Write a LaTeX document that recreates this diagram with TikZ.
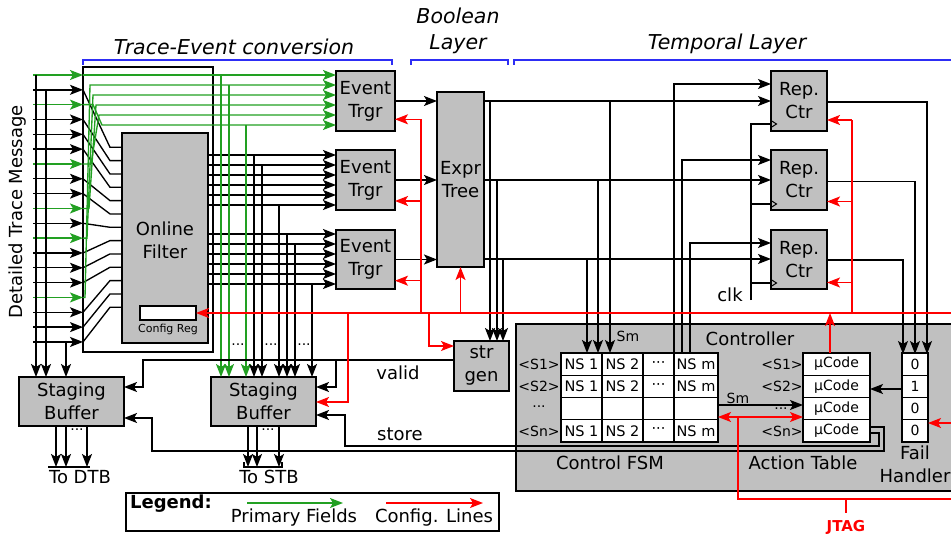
\documentclass[tikz,border=0pt]{standalone}
\usepackage{fontspec}
\setmainfont{DejaVu Sans}
\usetikzlibrary{arrows.meta}
\definecolor{boxgray}{RGB}{192,192,192}
\definecolor{wgreen}{RGB}{34,160,34}
\definecolor{wred}{RGB}{255,0,0}
\definecolor{wblue}{RGB}{45,45,245}
\newcommand{\myBig}{\fontsize{18}{23}\selectfont}
\newcommand{\myMid}{\fontsize{14.5}{16}\selectfont}
\newcommand{\mySmall}{\fontsize{14}{15}\selectfont}
\newcommand{\myTiny}{\fontsize{11}{12}\selectfont}
\newcommand{\myHead}{\fontsize{20.5}{26}\selectfont\itshape}
\begin{document}
\begin{tikzpicture}[x=1pt,y=-1pt,
  wire/.style={line width=1.35pt},
  tipA/.style={-{Stealth[length=13pt,width=10pt,inset=3pt]}},
  arr/.style={wire,tipA},
  garr/.style={arr,wgreen},
  gwire/.style={wire,wgreen},
  rwire/.style={wire,wred},
  rarr/.style={arr,wred},
  plain/.style={inner sep=0pt,outer sep=0pt,anchor=north west},
  gbox/.style={plain,draw,fill=boxgray,line width=1.4pt,align=center,font=\myBig},
  cell/.style={plain,draw,fill=white,line width=1.3pt,font=\myMid},
  lbl/.style={inner sep=0pt,font=\myBig},
  slbl/.style={inner sep=0pt,font=\mySmall},
  bl/.style={line width=1.2pt,wblue},
]
\useasboundingbox (0,0) rectangle (951,535);
\clip (0,0) rectangle (951,535);

% ---------- headings ----------
\node[inner sep=0pt,font=\myHead] (h1) at (234,47) {Trace-Event conversion};
\node[inner sep=0pt,font=\myHead,align=center] (h2) at (458,31) {Boolean\\Layer};
\node[inner sep=0pt,font=\myHead] (h3) at (727,44) {Temporal Layer};
\draw[bl] (83,65) -- (83,60) -- (392,60) -- (392,65);
\draw[bl] (411,65) -- (411,60) -- (508,60) -- (508,65);
\draw[bl] (514,65) -- (514,60) -- (955,60);

\node[inner sep=0pt,font=\myBig,rotate=90] (dtm) at (18,212) {Detailed Trace Message};

% ---------- controller background ----------
\node[gbox,minimum width=445pt,minimum height=167pt] (ctrl) at (516,324) {};
\node[lbl] (ctrll) at (750,339) {Controller};
\node[lbl] (cfsml) at (610,463) {Control FSM};
\node[lbl] (actl) at (803,463) {Action Table};
\node[lbl] (faill) at (915,453) {Fail};
\node[lbl] (handl) at (915,476) {Handler};

% ---------- boxes ----------
\node[plain,draw,line width=1.4pt,minimum width=130pt,minimum height=285pt] (tbox) at (83,67) {};
\node[gbox,minimum width=86pt,minimum height=210pt] (filter) at (122,133) {};
\node[lbl,align=center] (filtl) at (165,240) {Online\\Filter};
\node[cell,minimum width=56pt,minimum height=14pt] (cfg) at (140,306) {};
\node[inner sep=0pt,font=\myTiny] (cfgl) at (168,329) {Config Reg};

\node[gbox,minimum width=59pt,minimum height=60pt] (et1) at (336,71) {Event\\Trgr};
\node[gbox,minimum width=59pt,minimum height=60pt] (et2) at (336,150) {Event\\Trgr};
\node[gbox,minimum width=59pt,minimum height=59pt] (et3) at (336,230) {Event\\Trgr};
\node[gbox,minimum width=47pt,minimum height=175pt] (expr) at (437,92) {Expr\\Tree};
\node[gbox,minimum width=56pt,minimum height=60pt] (rc1) at (771,71) {Rep.\\Ctr};
\node[gbox,minimum width=56pt,minimum height=60pt] (rc2) at (771,150) {Rep.\\Ctr};
\node[gbox,minimum width=56pt,minimum height=59pt] (rc3) at (771,230) {Rep.\\Ctr};
\node[gbox,line width=1.8pt,minimum width=55pt,minimum height=50pt] (sg) at (454,341) {str\\gen};
\node[gbox,minimum width=105pt,minimum height=49pt] (sb1) at (19,377) {Staging\\Buffer};
\node[gbox,minimum width=105pt,minimum height=49pt] (sb2) at (211,377) {Staging\\Buffer};

% ---------- input rows ----------
\foreach \i/\c in {0/wgreen,1/black,2/wgreen,3/black,4/black,5/black,6/wgreen,7/black,8/black,9/wgreen,10/black,11/wgreen,12/black,13/black,14/black,15/wgreen,16/black,17/black,18/black}{
  \pgfmathsetmacro\yy{75+14.83*\i}
  \coordinate (in\i) at (33,\yy);
  \draw[arr,\c] (in\i) -- (tbox.west |- in\i);
}
% black fan into filter
\foreach \i/\j in {1/0,3/1,4/2,5/3,7/4,8/5,10/6,12/7,13/8,14/9,16/10,17/11,18/12}{
  \pgfmathsetmacro\yf{147.3+13.33*\j}
  \draw[wire] (tbox.west |- in\i) -- (110,\yf) -- (filter.west |- 0,\yf);
}
% green primary fields to ET1
\draw[garr] (tbox.west |- in0) -- (et1.west |- in0);
\foreach \i/\t/\xb/\xt in {15/0/85/90,11/1/87/93,9/2/89/96,6/3/91/99,2/4/93/102}{
  \pgfmathsetmacro\yt{85+10*\t}
  \draw[garr] (tbox.west |- in\i) -- (\xb,0 |- in\i) -- (\xt,\yt) -- (et1.west |- 0,\yt);
}
% filter outputs
\foreach \y in {155,165,175,185,195,205} \draw[arr] (filter.east |- 0,\y) -- (et2.west |- 0,\y);
\foreach \y in {234,244,254,264,274,284} \draw[arr] (filter.east |- 0,\y) -- (et3.west |- 0,\y);
% drops to staging buffer 2
\foreach \x/\y in {221/75,229/85,246/125} \draw[garr] (\x,\y) -- (\x,0 |- sb2.north);
\foreach \x/\y in {254/155,262/165,279/205,287/234,295/244,312/284} \draw[arr] (\x,\y) -- (\x,0 |- sb2.north);
\node[inner sep=0pt,font=\mySmall] (d1) at (238,347) {···};
\node[inner sep=0pt,font=\mySmall] (d2) at (271,347) {···};
\node[inner sep=0pt,font=\mySmall] (d3) at (304,347) {···};
% staging buffer 1 inputs
\draw[arr] (36,0 |- in0) -- (36,0 |- sb1.north);
\draw[arr] (46,0 |- in1) -- (46,0 |- sb1.north);
\draw[arr] (66,0 |- in18) -- (66,0 |- sb1.north);
% buffer outputs
\foreach \x in {56,66,87} \draw[arr] (\x,0 |- sb1.south) -- (\x,467);
\coordinate (dtbA) at (48,467); \coordinate (dtbB) at (90,467);
\draw[wire] (dtbA) -- (dtbB);
\node[inner sep=0pt,font=\mySmall] (d4) at (77,432) {···};
\node[lbl] (dtb) at (80,477) {To DTB};
\foreach \x in {248,257,279} \draw[arr] (\x,0 |- sb2.south) -- (\x,467);
\coordinate (stbA) at (244,467); \coordinate (stbB) at (282,467);
\draw[wire] ([yshift=5pt]stbA) -- (stbA) -- (stbB) -- ([yshift=5pt]stbB);
\node[inner sep=0pt,font=\mySmall] (d5) at (268,432) {···};
\node[lbl] (stb) at (269,477) {To STB};

% event triggers -> expr tree
\draw[arr] (et1.east) -- (expr.west |- et1.east);
\draw[arr] (et2.east) -- (expr.west |- et2.east);
\draw[arr] (et3.east) -- (expr.west |- et3.east);

% expr outputs
\draw[arr] (expr.east |- 0,101) -- (rc1.west |- 0,101);
\draw[arr] (expr.east |- 0,180) -- (rc2.west |- 0,180);
\draw[arr] (expr.east |- 0,259) -- (rc3.west |- 0,259);
\draw[arr] (490,101) -- (490,0 |- sg.north);
\draw[arr] (497,180) -- (497,0 |- sg.north);
\draw[arr] (503,259) -- (503,0 |- sg.north);
\draw[arr] (610,101) -- (610,353);
\draw[arr] (598,180) -- (598,353);
\draw[arr] (587,259) -- (587,353);
\node[inner sep=0pt,font=\mySmall] (sm1) at (628,336) {Sm};

% FSM -> rep ctr
\draw[arr] (674,353) -- (674,84) -- (rc1.west |- 0,84);
\draw[arr] (682,353) -- (682,160) -- (rc2.west |- 0,160);
\draw[arr] (690,353) -- (690,243) -- (rc3.west |- 0,243);
% clock
\draw[wire] (751,300) -- (751,124) -- (rc1.west |- 0,124);
\draw[wire] (751,204) -- (rc2.west |- 0,204);
\draw[wire] (751,283) -- (rc3.west |- 0,283);
\foreach \y in {124,204,283} \draw[line width=1pt] (771,{\y-3.5}) -- (776.5,\y) -- (771,{\y+3.5});
\node[lbl] (clk) at (730,295) {clk};

% rep ctr -> fail handler
\draw[arr] (rc1.east |- 0,102) -- (927,102) -- (927,354);
\draw[arr] (rc2.east |- 0,181.5) -- (915,181.5) -- (915,354);
\draw[arr] (rc3.east |- 0,260) -- (903,260) -- (903,354);

% valid / store
\draw[arr] (sg.west |- 0,360) -- (143,360) -- (143,387) -- (sb1.east |- 0,387);
\draw[arr] (336,360) -- (336,387) -- (sb2.east |- 0,387);
\node[lbl] (valid) at (398,373) {valid};
\draw[arr] (870,427) -- (884,427) -- (884,451) -- (152,451) -- (152,418) -- (sb1.east |- 0,418);
\draw[arr] (870,433) -- (879,433) -- (879,446) -- (345,446) -- (345,415) -- (sb2.east |- 0,415);
\node[lbl] (store) at (400,434) {store};

% ---------- red config lines ----------
\draw[rarr] (951,313) -- (cfg.east);
\draw[rwire] (421,313) -- (421,119.3);
\draw[rarr] (421,119.3) -- (et1.east |- 0,119.3);
\draw[rarr] (421,201) -- (et2.east |- 0,201);
\draw[rarr] (421,280.7) -- (et3.east |- 0,280.7);
\draw[rarr] (expr.south |- 0,313) -- (expr.south);
\draw[rarr] (429,313) -- (429,346) -- (sg.west |- 0,346);
\draw[rarr] (348,313) -- (348,402) -- (sb2.east |- 0,402);
\draw[rwire] (852,313) -- (852,120);
\draw[rarr] (852,120) -- (rc1.east |- 0,120);
\draw[rarr] (852,201.5) -- (rc2.east |- 0,201.5);
\draw[rarr] (852,282.5) -- (rc3.east |- 0,282.5);

% ---------- tables ----------
\foreach \r/\ya in {1/353,2/375.25,4/419.75}{
  \node[cell,minimum width=41pt,minimum height=22.25pt] (f\r a) at (561,\ya) {NS 1};
  \node[cell,minimum width=41pt,minimum height=22.25pt] (f\r b) at (602,\ya) {NS 2};
  \node[cell,minimum width=31pt,minimum height=22.25pt] (f\r c) at (643,\ya) {···};
  \node[cell,minimum width=44pt,minimum height=22.25pt] (f\r d) at (674,\ya) {NS m};
}
\node[cell,minimum width=41pt,minimum height=22.25pt] (f3a) at (561,397.5) {};
\node[cell,minimum width=41pt,minimum height=22.25pt] (f3b) at (602,397.5) {};
\node[cell,minimum width=31pt,minimum height=22.25pt] (f3c) at (643,397.5) {};
\node[cell,minimum width=44pt,minimum height=22.25pt] (f3d) at (674,397.5) {};
\foreach \k/\yc/\t in {1/364/{<S1>},2/386.4/{<S2>},3/409/{···},4/431/{<Sn>}}
  \node[slbl] (fl\k) at (539,\yc) {\t};

\foreach \r/\ya/\v in {1/353/0,2/375.25/1,3/397.5/0,4/419.75/0}{
  \node[cell,minimum width=67pt,minimum height=22.25pt,font=\mySmall] (a\r) at (803,\ya) {µCode};
  \node[cell,minimum width=26pt,minimum height=22.25pt,font=\mySmall] (fh\r) at (902,\ya) {\v};
}
\foreach \k/\yc/\t in {1/364/{<S1>},2/386.4/{<S2>},4/431/{<Sn>}}
  \node[slbl] (al\k) at (782,\yc) {\t};
\node[slbl] (al3) at (781,411) {···};

% controller internal wires
\draw[arr] (f3d.east |- 0,405) -- (a3.west |- 0,405);
\node[slbl] (sm2) at (738,398) {Sm};
\draw[arr] (fh2.west |- 0,389) -- (a2.east |- 0,389);
\draw[rwire,{Stealth[length=13pt,width=10pt,inset=3pt]}-{Stealth[length=13pt,width=10pt,inset=3pt]}] (f3d.east |- 0,417) -- (a3.west |- 0,417);
\draw[rwire] (738,417) -- (738,499) -- (951,499);
\draw[rwire] (846,499) -- (846,513);
\node[inner sep=0pt,font=\fontsize{15}{17}\selectfont\bfseries,text=wred] (jtag) at (846,527) {JTAG};
\draw[rarr] (830,0 |- a1.north) -- (830,313);
\draw[rarr] (951,423) -- (fh4.east |- 0,423);

% ---------- legend ----------
\node[plain,draw,line width=1.3pt,minimum width=373pt,minimum height=38pt] (leg) at (126,493) {};
\node[inner sep=0pt,font=\myBig\bfseries] (legt) at (171,504) {Legend:};
\coordinate (lg1) at (247,503); \coordinate (lg2) at (343,503);
\coordinate (lr1) at (386,503); \coordinate (lr2) at (483,503);
\draw[garr] (lg1) -- (lg2);
\draw[rarr] (lr1) -- (lr2);
\node[lbl] (legg) at (294,518) {Primary Fields};
\node[lbl] (legr) at (434,518) {Config. Lines};
\end{tikzpicture}
\end{document}
